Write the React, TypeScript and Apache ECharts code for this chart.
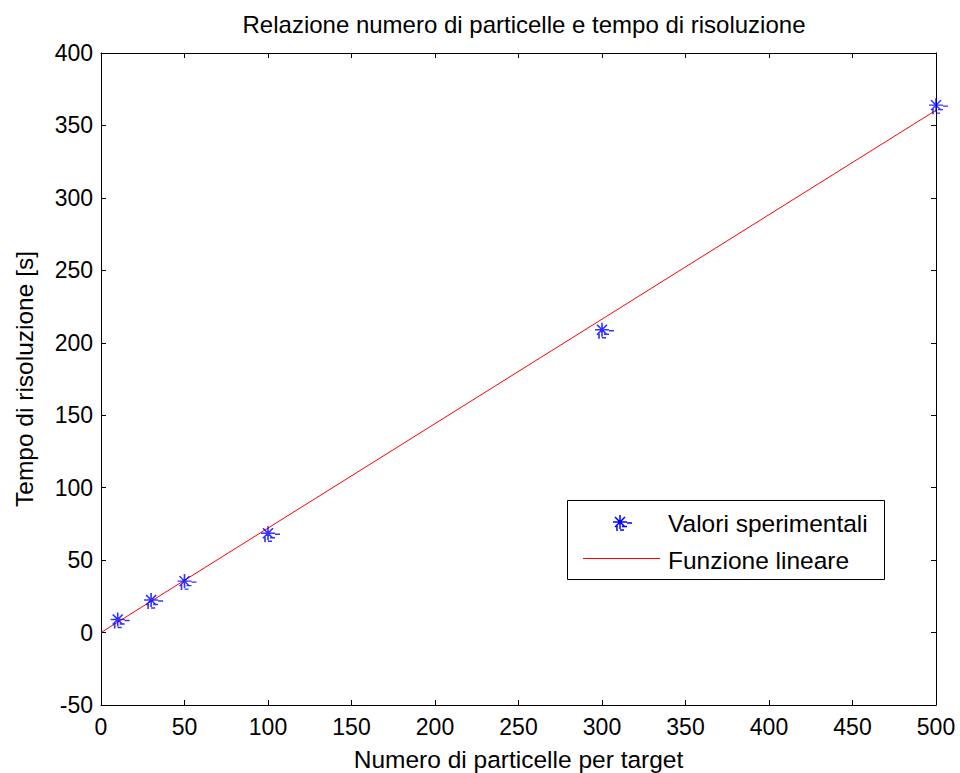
import React, { useEffect, useRef } from "react";
import * as echarts from "echarts";

const particles = [10, 30, 50, 100, 300, 500];
const times = [9, 22.5, 35.5, 68.5, 209, 364];
const fitX = [0, 500];
const fitY = [0, 360.5];
const titleText = "Relazione numero di particelle e tempo di risoluzione";
const xName = "Numero di particelle per target";
const yName = "Tempo di risoluzione [s]";
const seriesNames = ["Valori sperimentali", "Funzione lineare"];

const FONT = "Liberation Sans, Arial, sans-serif";

const asteriskD =
  "M0,-7L0,7M-7,0L7,0M-5,-5L5,5M-5,5L5,-5M7,1L12,1M2,4.5L7,4.5M0,8L4,8M-3,3L-3,9";

let registered = false;

export default function App() {
  const ref = useRef<HTMLDivElement>(null);
  useEffect(() => {
    if (!ref.current) return;
    document.body.style.margin = "0";
    if (!registered) {
      echarts.graphic.registerShape("asterisk", echarts.graphic.extendPath(asteriskD, {}));
      registered = true;
    }
    const chart = echarts.init(ref.current, null, { renderer: "svg" });
    const axisCommon = {
      type: "value" as const,
      axisLine: { show: true, onZero: false, lineStyle: { color: "#000", width: 1 } },
      axisTick: { show: true, inside: true, length: 5, lineStyle: { color: "#000" } },
      splitLine: { show: false },
    };
    const txt = { fontFamily: FONT, color: "#000" };
    chart.setOption({
      animation: false,
      backgroundColor: "#fff",
      title: {
        text: titleText,
        left: 519,
        textAlign: "center",
        top: 7,
        textStyle: { ...txt, fontSize: 24, fontWeight: "normal" },
      },
      grid: {
        left: 101,
        right: 24,
        top: 53,
        bottom: 68,
        containLabel: false,
        outerBoundsMode: "none",
      },
      xAxis: [
        {
          ...axisCommon,
          min: 0,
          max: 500,
          interval: 50,
          name: xName,
          nameLocation: "middle",
          nameGap: 42,
          nameTextStyle: { ...txt, fontSize: 24.5 },
          axisLabel: { ...txt, fontSize: 23, margin: 10 },
        },
        {
          ...axisCommon,
          position: "top",
          min: 0,
          max: 500,
          interval: 50,
          axisLabel: { show: false },
        },
      ],
      yAxis: [
        {
          ...axisCommon,
          min: -50,
          max: 400,
          interval: 50,
          name: yName,
          nameLocation: "middle",
          nameGap: 64,
          nameTextStyle: { ...txt, fontSize: 24.5 },
          axisLabel: { ...txt, fontSize: 23, margin: 8 },
        },
        {
          ...axisCommon,
          position: "right",
          min: -50,
          max: 400,
          interval: 50,
          axisLabel: { show: false },
        },
      ],
      graphic: [
        {
          type: "rect",
          shape: { x: 567.5, y: 500.5, width: 317, height: 79 },
          style: { fill: "#fff", stroke: "#000", lineWidth: 1 },
          z: 10,
        },
        {
          type: "asterisk",
          x: 620,
          y: 522,
          style: { fill: null, stroke: "#0000ff", lineWidth: 1.5 },
          z: 11,
        },
        {
          type: "text",
          x: 668,
          y: 523,
          style: { ...txt, text: seriesNames[0], fill: "#000", fontSize: 24.5, verticalAlign: "middle", align: "left" },
          z: 11,
        },
        {
          type: "line",
          shape: { x1: 583, y1: 558.5, x2: 660, y2: 558.5 },
          style: { stroke: "#ff0000", lineWidth: 1 },
          z: 11,
        },
        {
          type: "text",
          x: 668,
          y: 560,
          style: { ...txt, text: seriesNames[1], fill: "#000", fontSize: 24.5, verticalAlign: "middle", align: "left" },
          z: 11,
        },
      ],
      series: [
        {
          name: seriesNames[1],
          type: "line",
          data: fitX.map((x, i) => [x, fitY[i]]),
          symbol: "none",
          lineStyle: { color: "#ff0000", width: 1 },
          itemStyle: { color: "#ff0000" },
          z: 2,
        },
        {
          name: seriesNames[0],
          type: "scatter",
          data: particles.map((x, i) => [x, times[i]]),
          symbol: "path://" + asteriskD,
          symbolSize: [19, 16],
          symbolOffset: [2.5, 1],
          itemStyle: { color: "none", borderColor: "#0000ff", borderWidth: 1.5 },
          z: 3,
        },
      ],
    });
    return () => chart.dispose();
  }, []);
  return <div ref={ref} style={{ width: 960, height: 773 }} />;
}
